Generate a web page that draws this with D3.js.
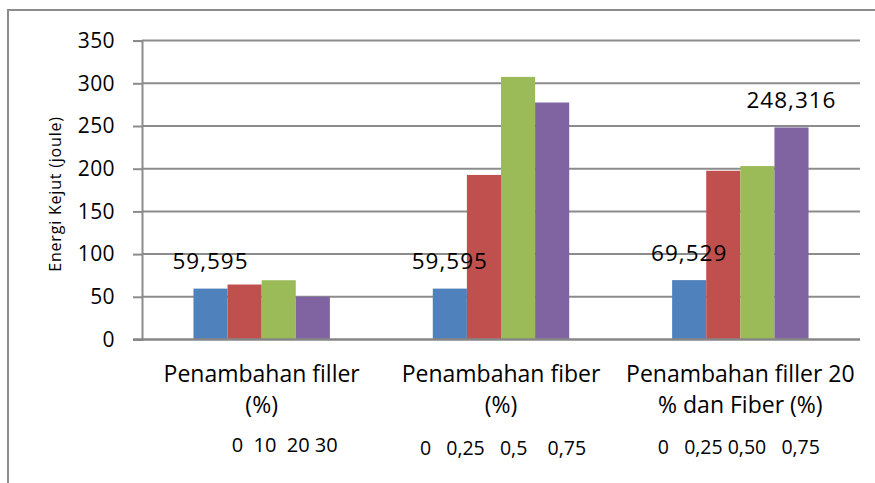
<!DOCTYPE html>
<html>
<head>
<meta charset="utf-8">
<script src="https://cdn.jsdelivr.net/npm/d3@7/dist/d3.min.js"></script>
<style>
  html, body { margin: 0; padding: 0; background: #fff; }
  svg { display: block; font-family: "Open Sans", "Liberation Sans", sans-serif; }
</style>
</head>
<body>
<svg id="chart" width="875" height="483"></svg>
<script>
// Energi kejut per kelompok perlakuan
const categoryLines = [
  ["Penambahan filler", "(%)"],
  ["Penambahan fiber", "(%)"],
  ["Penambahan filler 20", "% dan Fiber (%)"]
];
const levelLabels = ["0  10  20 30", "0   0,25   0,5    0,75", "0   0,25 0,50   0,75"];
const seriesNames = ["Kadar 1", "Kadar 2", "Kadar 3", "Kadar 4"];
const series1 = [59.595, 59.595, 69.529];
const series2 = [64.4, 192.7, 197.6];
const series3 = [69.4, 307.5, 203.1];
const series4 = [50.1, 277.5, 248.316];
const yTicks = [0, 50, 100, 150, 200, 250, 300, 350];
// which bars carry a value label: [group index, series index]
const labelled = [[0, 0], [1, 0], [2, 0], [2, 3]];

const colors = ["#4F81BD", "#C0504D", "#9BBB59", "#8064A2"];
const allSeries = [series1, series2, series3, series4];

const svg = d3.select("#chart");
const plotLeft = 142, plotRight = 860, plotTop = 40.6, plotBottom = 339.5;

// outer frame
svg.append("path")
  .attr("d", "M8,483 V10 H875")
  .attr("fill", "none").attr("stroke", "#8c8c8c").attr("stroke-width", 2);

const x0 = d3.scaleBand().domain(d3.range(categoryLines.length))
  .range([plotLeft, plotRight]).paddingInner(0.43).paddingOuter(0.215);
const x1 = d3.scaleBand().domain(d3.range(seriesNames.length))
  .range([0, x0.bandwidth()]).padding(0);
const y = d3.scaleLinear().domain([0, 350]).range([plotBottom, plotTop]);

// gridlines
svg.append("g").selectAll("line").data(yTicks.filter(t => t > 0)).join("line")
  .attr("x1", plotLeft).attr("x2", plotRight)
  .attr("y1", d => y(d)).attr("y2", d => y(d))
  .attr("stroke", "#8c8c8c").attr("stroke-width", 2);

// bars
const groups = svg.append("g").selectAll("g").data(d3.range(categoryLines.length)).join("g")
  .attr("transform", i => `translate(${x0(i)},0)`);
groups.selectAll("rect").data(i => allSeries.map((s, k) => ({ k, v: s[i] }))).join("rect")
  .attr("x", d => x1(d.k))
  .attr("width", x1.bandwidth())
  .attr("y", d => y(d.v))
  .attr("height", d => y(0) - y(d.v))
  .attr("fill", d => colors[d.k]);

// y axis
const yAxis = d3.axisLeft(y).tickValues(yTicks).tickSize(9).tickPadding(18);
const ya = svg.append("g").attr("transform", `translate(${plotLeft},0)`).call(yAxis);
ya.select(".domain").attr("stroke", "#8c8c8c").attr("stroke-width", 2);
ya.selectAll(".tick line").attr("stroke", "#8c8c8c").attr("stroke-width", 2);
ya.selectAll(".tick text").attr("font-size", 21).attr("fill", "#000")
  .attr("letter-spacing", 0.4)
  .attr("font-family", "'Open Sans', sans-serif");

// baseline
svg.append("line").attr("x1", plotLeft - 9).attr("x2", plotRight)
  .attr("y1", y(0)).attr("y2", y(0))
  .attr("stroke", "#868686").attr("stroke-width", 2.5);

// y axis title
svg.append("text")
  .attr("transform", `translate(61,194) rotate(-90)`)
  .attr("text-anchor", "middle")
  .attr("font-size", 16).attr("letter-spacing", 0.8).attr("fill", "#000")
  .text("Energi Kejut (joule)");

// category labels
const cat = svg.append("g");
categoryLines.forEach((lines, i) => {
  const cx = x0(i) + x0.bandwidth() / 2;
  lines.forEach((ln, j) => {
    cat.append("text").attr("x", cx).attr("y", 382 + j * 31)
      .attr("text-anchor", "middle").attr("font-size", 23).attr("fill", "#000")
      .text(ln);
  });
});

// level labels under each group
const levelShift = [23, 2, -1.5];
const levelSize = [20, 19.5, 19.5];
const levelBase = [452, 455, 454];
levelLabels.forEach((t, i) => {
  cat.append("text")
    .attr("x", x0(i) + x0.bandwidth() / 2 + levelShift[i]).attr("y", levelBase[i])
    .attr("text-anchor", "middle").attr("font-size", levelSize[i]).attr("fill", "#000")
    .attr("xml:space", "preserve").style("white-space", "pre")
    .text(t);
});

// value labels
const fmt = d3.formatLocale({ decimal: ",", thousands: ".", grouping: [3], currency: ["", ""] }).format(".3f");
svg.append("g").selectAll("text").data(labelled).join("text")
  .attr("x", d => x0(d[0]) + x1(d[1]) + x1.bandwidth() / 2)
  .attr("y", d => y(allSeries[d[1]][d[0]]) - 19.5)
  .attr("text-anchor", "middle").attr("font-size", 22.5).attr("letter-spacing", 1)
  .attr("fill", "#000")
  .text(d => fmt(allSeries[d[1]][d[0]]));
</script>
</body>
</html>
